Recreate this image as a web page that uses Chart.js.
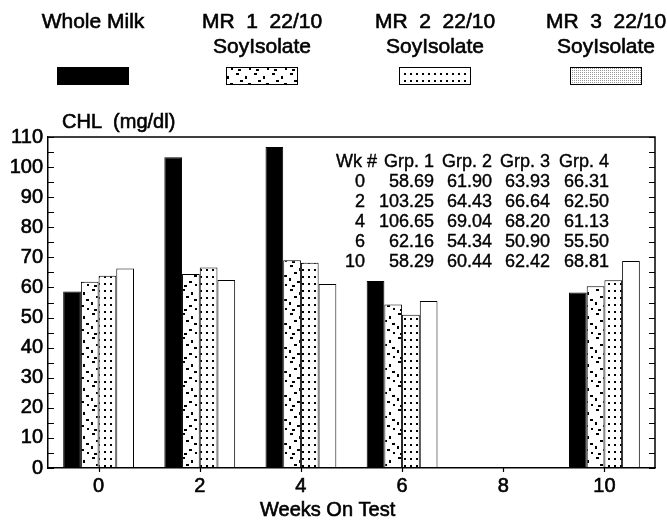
<!DOCTYPE html>
<html>
<head>
<meta charset="utf-8">
<script src="https://cdn.jsdelivr.net/npm/chart.js@4.4.1/dist/chart.umd.min.js"></script>
<style>
  html, body { margin: 0; padding: 0; background: #fff; }
  #wrap { width: 667px; height: 523px; }
</style>
</head>
<body>
<div id="wrap"><canvas id="chlChart" width="667" height="523"></canvas></div>
<script>
// weeks on test (x categories)
const weeks = ['0', '2', '4', '6', '8', '10'];

// CHL (mg/dl) per group, nothing measured at week 8
const wholeMilk = [58.69, 103.25, 106.65, 62.16, null, 58.29];
const mr1Soy = [61.90, 64.43, 69.04, 54.34, null, 60.44];
const mr2Soy = [63.93, 66.64, 68.20, 50.90, null, 62.42];
const mr3Soy = [66.31, 62.50, 61.13, 55.50, null, 68.81];

// legend text, one array per group (lines)
const groupLabels = [
    ['Whole Milk'],
    ['MR  1  22/10', 'SoyIsolate'],
    ['MR  2  22/10', 'SoyIsolate'],
    ['MR  3  22/10', 'SoyIsolate']
];

// y axis ticks
const yMin = 0;
const yMax = 110;
const yStep = 10;
const yMinorStep = 5;

// table inside the plot
const tableHead = ['Wk #', 'Grp. 1', 'Grp. 2', 'Grp. 3', 'Grp. 4'];

const FONT = '"Liberation Sans", Arial, sans-serif';
const NARROW = '"Liberation Sans Narrow", "Liberation Sans", Arial, sans-serif';

// fill patterns for the bars
function makePattern(w, h, draw) {
    const c = document.createElement('canvas');
    c.width = w; c.height = h;
    const g = c.getContext('2d');
    g.fillStyle = '#fff';
    g.fillRect(0, 0, w, h);
    g.fillStyle = '#000';
    draw(g);
    return g.createPattern(c, 'repeat');
}

// scattered dashes (MR 1)
const speckle = makePattern(18, 24, g => {
    g.fillRect(2, 1, 3, 2);
    g.fillRect(11, 4, 2, 3);
    g.fillRect(6, 8, 3, 2);
    g.fillRect(14, 11, 3, 2);
    g.fillRect(1, 14, 2, 3);
    g.fillRect(9, 17, 3, 2);
    g.fillRect(4, 21, 3, 2);
    g.fillRect(15, 20, 2, 2);
});
// regular dots (MR 2)
const dots = makePattern(6, 7, g => {
    g.fillRect(2, 3, 2, 2);
});
// fine grey stipple (MR 3 legend)
const stipple = makePattern(2, 2, g => {
    g.fillStyle = '#9a9a9a';
    g.fillRect(0, 0, 1, 1);
});

// text a bit heavier, like the printed original
function heavyText(ctx, s, x, y) {
    ctx.fillText(s, x, y);
    ctx.strokeText(s, x, y);
}

// 1. legend, frame, minor ticks, titles and the value table
const decorPlugin = {
    id: 'decor',
    afterDraw(chart) {
        const ctx = chart.ctx;
        const a = chart.chartArea;
        const ys = chart.scales.y;
        const xs = chart.scales.x;
        ctx.save();
        ctx.strokeStyle = '#000';
        ctx.fillStyle = '#000';

        // top + right frame
        ctx.lineWidth = 1.5;
        ctx.beginPath();
        ctx.moveTo(a.left, a.top);
        ctx.lineTo(a.right, a.top);
        ctx.lineTo(a.right, a.bottom);
        ctx.stroke();

        // inward ticks every 5 units on both sides
        ctx.lineWidth = 1.2;
        for (let v = yMin; v <= yMax; v += yMinorStep) {
            const y = Math.round(ys.getPixelForValue(v)) + 0.5;
            ctx.beginPath();
            ctx.moveTo(a.left, y); ctx.lineTo(a.left + 6, y);
            ctx.moveTo(a.right, y); ctx.lineTo(a.right - 6, y);
            ctx.stroke();
        }
        // little ticks under the categories
        weeks.forEach((w, i) => {
            const x = Math.round(xs.getPixelForValue(i)) + 0.5;
            ctx.beginPath();
            ctx.moveTo(x, a.bottom); ctx.lineTo(x, a.bottom + 4);
            ctx.stroke();
        });

        // axis titles
        ctx.lineWidth = 0.6;
        ctx.font = '20px ' + FONT;
        ctx.textAlign = 'left';
        ctx.textBaseline = 'alphabetic';
        heavyText(ctx, 'CHL  (mg/dl)', 62, 128);
        heavyText(ctx, 'Weeks On Test', 260, 516);

        // legend
        const centers = [93, 262, 435, 606];
        ctx.textAlign = 'center';
        ctx.font = '21px ' + FONT;
        chart.data.datasets.forEach((ds, i) => {
            const cx = centers[i];
            ctx.lineWidth = 0.6;
            ds.label.forEach((line, k) => heavyText(ctx, line, cx, 28 + k * 25));
            const sx = Math.round(cx - 36), sy = 67;
            ctx.fillStyle = i === 3 ? stipple : ds.backgroundColor;
            ctx.fillRect(sx, sy, 72, 18);
            ctx.lineWidth = 1;
            ctx.strokeRect(sx + 0.5, sy + 0.5, 71, 17);
            ctx.fillStyle = '#000';
        });

        // value table
        const cols = [377, 434, 492, 550, 609];
        ctx.textAlign = 'right';
        ctx.font = '18px ' + NARROW;
        ctx.lineWidth = 0.4;
        tableHead.forEach((h, c) => heavyText(ctx, h, cols[c], 167));
        let row = 0;
        weeks.forEach((w, i) => {
            if (wholeMilk[i] === null) return;
            const y = 187 + row * 20;
            heavyText(ctx, w, 365, y);
            chart.data.datasets.forEach((ds, c) => {
                heavyText(ctx, ds.data[i].toFixed(2), cols[c + 1], y);
            });
            row++;
        });
        ctx.restore();
    }
};

// 2. the bar chart
const barStyle = { borderColor: '#000', borderWidth: 1, borderSkipped: false };
const tickFont = { size: 20, family: FONT };
const ctx = document.getElementById('chlChart').getContext('2d');
const myChart = new Chart(ctx, {
    type: 'bar',
    data: {
        labels: weeks,
        datasets: [
            { label: groupLabels[0], data: wholeMilk, backgroundColor: '#000', ...barStyle },
            { label: groupLabels[1], data: mr1Soy, backgroundColor: speckle, ...barStyle },
            { label: groupLabels[2], data: mr2Soy, backgroundColor: dots, ...barStyle },
            { label: groupLabels[3], data: mr3Soy, backgroundColor: '#fff', ...barStyle }
        ]
    },
    options: {
        responsive: false,
        animation: false,
        devicePixelRatio: 1,
        layout: { padding: { top: 137, right: 12, left: 0, bottom: 0 } },
        categoryPercentage: 0.70,
        barPercentage: 1.0,
        plugins: { legend: { display: false }, tooltip: { enabled: false } },
        scales: {
            x: {
                grid: { display: false, drawTicks: false },
                border: { display: true, color: '#000', width: 1.5 },
                ticks: { color: '#000', font: tickFont, padding: 6, maxRotation: 0,
                         textStrokeColor: '#000', textStrokeWidth: 0.6 },
                afterFit: s => { s.height = 55; }
            },
            y: {
                min: yMin,
                max: yMax,
                grid: { display: false, drawTicks: false },
                border: { display: true, color: '#000', width: 1.5 },
                ticks: { stepSize: yStep, color: '#000', font: tickFont, padding: 5,
                         textStrokeColor: '#000', textStrokeWidth: 0.6 },
                afterFit: s => { s.width = 48; }
            }
        }
    },
    plugins: [decorPlugin]
});
</script>
</body>
</html>
